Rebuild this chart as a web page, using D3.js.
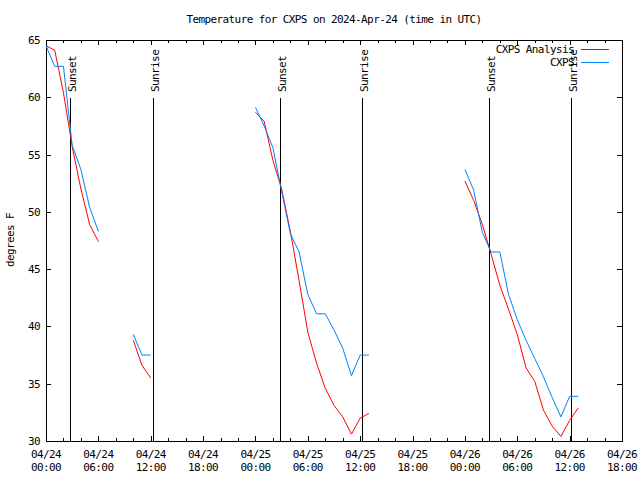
<!DOCTYPE html>
<html>
<head>
<meta charset="utf-8">
<script src="https://cdn.jsdelivr.net/npm/d3@7"></script>
<style>
  html, body { margin: 0; padding: 0; background: #fff; }
  svg text { font-family: 'DejaVu Sans Mono', monospace; font-size: 11px; letter-spacing: -0.6px; fill: #000; }
</style>
</head>
<body>
<svg id="chart" width="640" height="480"></svg>
<script>
// ---- data (hours since 2024-04-24 00:00 UTC) ----
const hours = [0,1,2,3,4,5,6, 10,11,12,
  24,25,26,27,28,29,30,31,32,33,34,35,36,37,
  48,49,50,51,52,53,54,55,56,57,58,59,60,61];
const analysisValues = [64.5,64.1,60.4,55.7,52.0,48.9,47.4, 38.8,36.6,35.5,
  58.7,57.9,54.5,52.0,48.3,44.0,39.5,36.8,34.6,33.1,32.1,30.6,32.0,32.4,
  52.7,51.0,48.9,46.3,43.6,41.5,39.3,36.4,35.2,32.7,31.3,30.4,31.8,32.9];
const obsValues = [64.5,62.7,62.7,55.8,53.7,50.4,48.3, 39.3,37.5,37.5,
  59.1,57.5,55.6,51.8,48.1,46.5,42.8,41.1,41.1,39.7,38.1,35.7,37.5,37.5,
  53.7,51.9,48.2,46.5,46.5,42.8,40.6,38.8,37.2,35.6,33.8,32.1,33.9,33.9];
const sunsetTimes = ["2024-04-24T02:45Z","2024-04-25T02:46Z","2024-04-26T02:47Z"];
const sunriseTimes = ["2024-04-24T12:15Z","2024-04-25T12:13Z","2024-04-26T12:12Z"];
const seriesNames = ["CXPS Analysis","CXPS"];
const seriesColors = ["#ff0000","#0080ff"];
const yTicks = [30,35,40,45,50,55,60,65];
const titleText = "Temperature for CXPS on 2024-Apr-24 (time in UTC)";
const yLabel = "degrees F";
const startTime = new Date("2024-04-24T00:00Z");
const endTime = new Date("2024-04-26T18:00Z");

// ---- layout ----
const L = 46, R = 622, T = 40, B = 441;
const svg = d3.select("#chart");
const x = d3.scaleUtc().domain([startTime, endTime]).range([L, R]);
const y = d3.scaleLinear().domain([30, 65]).range([B, T]);
const toDate = h => new Date(startTime.getTime() + h * 3600000);

// title
svg.append("text").attr("x", (L + R) / 2).attr("y", 23).attr("text-anchor", "middle").text(titleText);
// y label
svg.append("text").attr("transform", "translate(14,240) rotate(-90)").attr("text-anchor", "middle").text(yLabel);

// ticks
const g = svg.append("g").attr("shape-rendering", "crispEdges").attr("stroke", "#000");
yTicks.forEach(v => {
  const yy = Math.round(y(v)) + 0.5;
  g.append("line").attr("x1", L).attr("x2", L + 5).attr("y1", yy).attr("y2", yy);
  g.append("line").attr("x1", R - 5).attr("x2", R).attr("y1", yy).attr("y2", yy);
  svg.append("text").attr("x", 40).attr("y", y(v) + 4).attr("text-anchor", "end").text(v);
});
const major = d3.utcHour.every(6).range(startTime, new Date(endTime.getTime() + 1));
const minor = d3.utcHour.every(2).range(startTime, new Date(endTime.getTime() + 1));
minor.forEach(d => {
  const isMajor = d.getUTCHours() % 6 === 0;
  const len = isMajor ? 5 : 3;
  const xx = Math.round(x(d)) + 0.5;
  g.append("line").attr("x1", xx).attr("x2", xx).attr("y1", B).attr("y2", B - len);
  g.append("line").attr("x1", xx).attr("x2", xx).attr("y1", T).attr("y2", T + len);
});
const fDay = d3.utcFormat("%m/%d"), fHour = d3.utcFormat("%H:%M");
major.forEach(d => {
  const t = svg.append("text").attr("text-anchor", "middle");
  t.append("tspan").attr("x", x(d)).attr("y", 458).text(fDay(d));
  t.append("tspan").attr("x", x(d)).attr("y", 471).text(fHour(d));
});

// frame
g.append("rect").attr("x", L + 0.5).attr("y", T + 0.5).attr("width", R - L).attr("height", B - T).attr("fill", "none");

// sunset / sunrise
function marker(ts, label) {
  ts.forEach(s => {
    const xx = Math.round(x(new Date(s))) + 0.5;
    g.append("line").attr("x1", xx).attr("x2", xx).attr("y1", 98).attr("y2", B);
    svg.append("text").attr("transform", `translate(${xx + 5},92) rotate(-90)`).text(label);
  });
}
marker(sunsetTimes, "Sunset");
marker(sunriseTimes, "Sunrise");

// series
function segments(vals) {
  const segs = []; let cur = [];
  hours.forEach((h, i) => {
    if (cur.length && h - hours[i - 1] > 1) { segs.push(cur); cur = []; }
    cur.push([toDate(h), vals[i]]);
  });
  if (cur.length) segs.push(cur);
  return segs;
}
const line = d3.line().x(d => x(d[0])).y(d => y(d[1]));
[analysisValues, obsValues].forEach((vals, si) => {
  segments(vals).forEach(seg => {
    svg.append("path").attr("d", line(seg)).attr("fill", "none")
      .attr("stroke", seriesColors[si]).attr("stroke-width", 1);
  });
});

// legend
seriesNames.forEach((n, i) => {
  const ly = 49 + i * 13;
  svg.append("text").attr("x", 574).attr("y", ly + 4).attr("text-anchor", "end").text(n);
  svg.append("line").attr("x1", 581).attr("x2", 609).attr("y1", ly + 0.5).attr("y2", ly + 0.5)
    .attr("stroke", seriesColors[i]).attr("stroke-width", 1);
});
</script>
</body>
</html>
